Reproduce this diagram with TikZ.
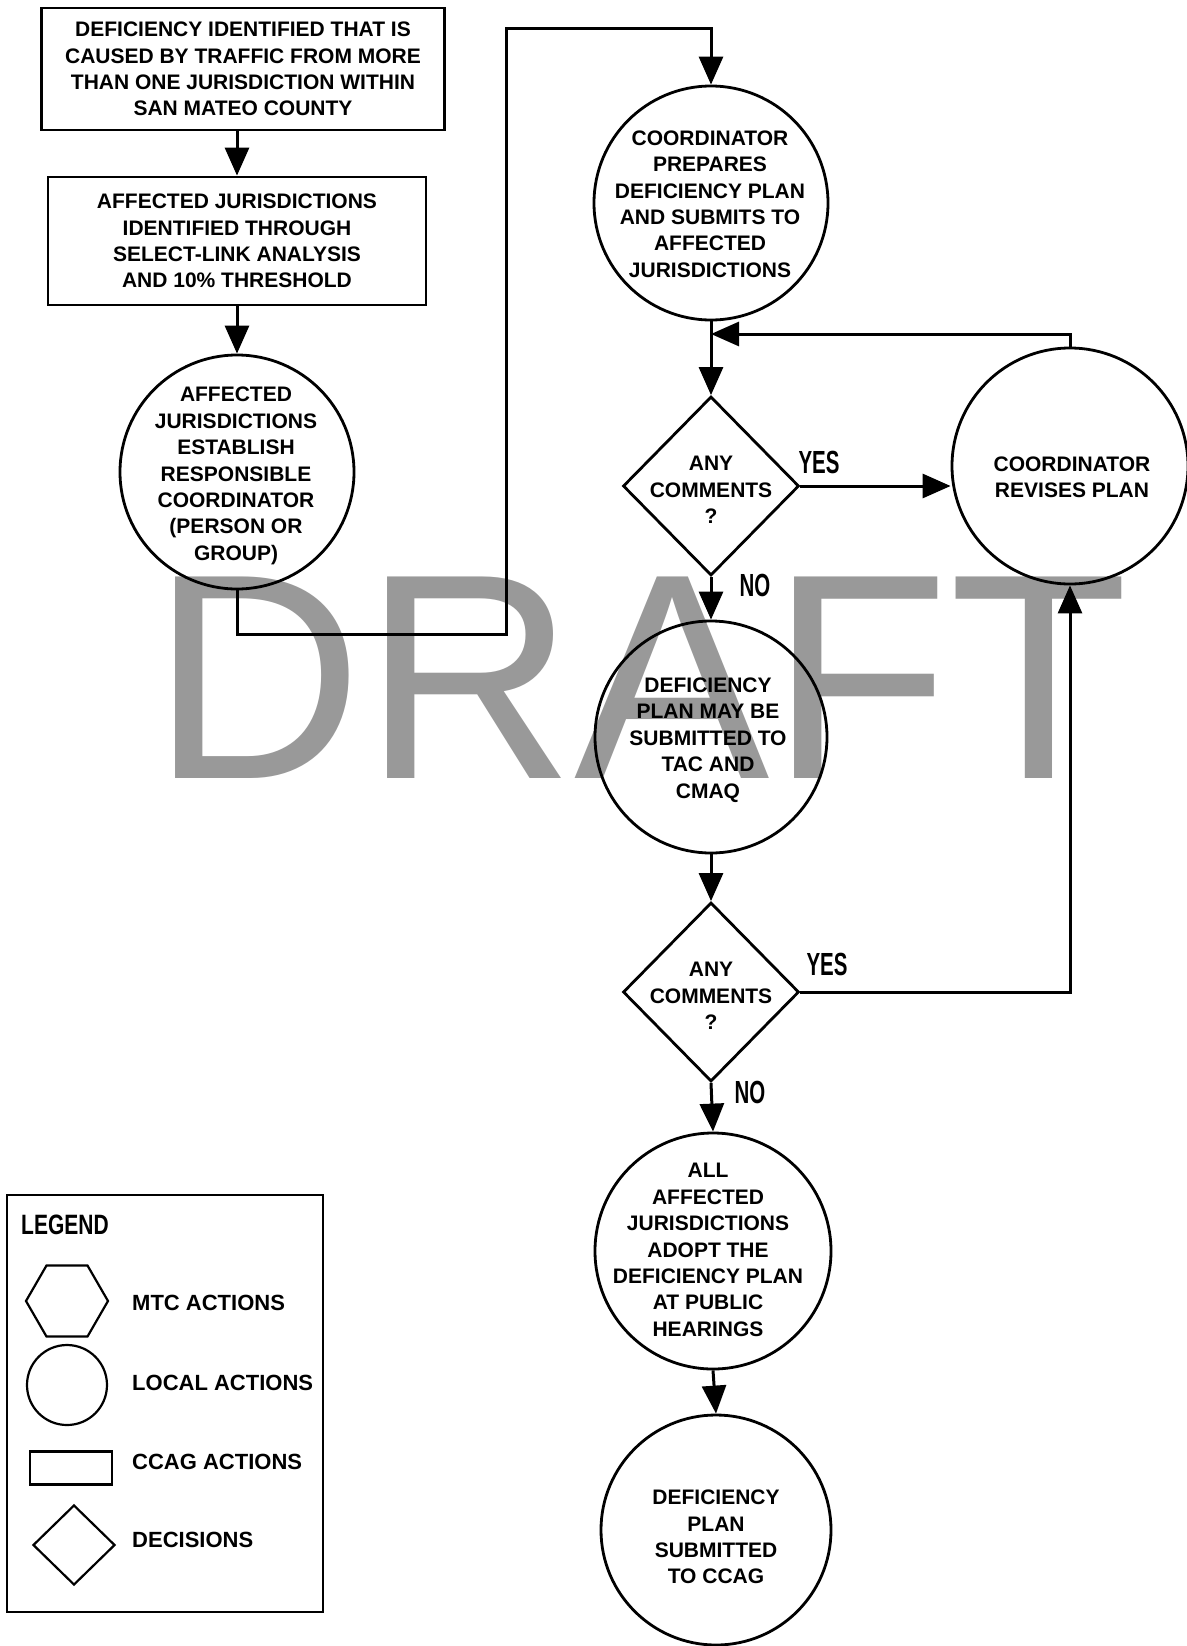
\documentclass[tikz,border=0pt]{standalone}
\usepackage{fontspec}
\setmainfont{Liberation Sans}
\newfontfamily\narrowsans[FakeStretch=0.64]{Liberation Sans}
\newfontfamily\legendsans[FakeStretch=0.75]{Liberation Sans}
\usepackage{tikz}
\usetikzlibrary{shapes.geometric, arrows.meta, positioning, calc}
\definecolor{draftgray}{gray}{0.6}
\newcommand{\flowfont}{\fontsize{21}{26.4}\selectfont\bfseries}

\tikzset{
  flow/.style={line width=3pt, -{Triangle[width=24pt,length=28pt]}},
  ccagact/.style={rectangle, draw, line width=2.8pt, inner sep=0pt, align=center, font=\flowfont},
  localact/.style={circle, draw, line width=2.8pt, inner sep=0pt, minimum size=234pt},
  decision/.style={diamond, draw, line width=2.8pt, inner sep=0pt, minimum width=176pt, minimum height=179pt},
  blocktext/.style={align=center, inner sep=0pt, font=\flowfont},
  answer/.style={inner sep=0pt, font=\narrowsans\bfseries\fontsize{32}{32}\selectfont},
  legshape/.style={draw, line width=2.2pt, inner sep=0pt},
  legtext/.style={anchor=west, inner sep=0pt, font=\fontsize{22}{26}\selectfont\bfseries}
}

\begin{document}
\begin{tikzpicture}[x=1pt, y=-1pt]
  \useasboundingbox (0,0) rectangle (1186,1646);

  % watermark behind everything
  \node[anchor=base, inner sep=0pt, text=draftgray,
        font=\fontsize{293}{293}\selectfont] (draftmark) at (640,778) {DRAFT};

  % left column
  \node[ccagact, minimum width=403pt, minimum height=122pt] (ccag1) at (243,69)
    {DEFICIENCY IDENTIFIED THAT IS\\CAUSED BY TRAFFIC FROM MORE\\THAN ONE JURISDICTION WITHIN\\SAN MATEO COUNTY};
  \node[ccagact, minimum width=378pt, minimum height=128pt] (ccag2) at (237,241)
    {AFFECTED JURISDICTIONS\\IDENTIFIED THROUGH\\SELECT-LINK ANALYSIS\\AND 10\% THRESHOLD};
  \node[localact] (establish) at (237,472) {};
  \node[blocktext] (establishtxt) at (236,476)
    {AFFECTED\\JURISDICTIONS\\ESTABLISH\\RESPONSIBLE\\COORDINATOR\\(PERSON OR\\GROUP)};

  % main column
  \node[localact] (prepares) at (711,203) {};
  \node[blocktext] (preparestxt) at (710,204)
    {COORDINATOR\\PREPARES\\DEFICIENCY PLAN\\AND SUBMITS TO\\AFFECTED\\JURISDICTIONS};
  \coordinate (rejoin) at (711,334);
  \node[decision] (any1) at (711,486) {};
  \node[blocktext] (any1txt) at (711,490) {ANY\\COMMENTS\\?};
  \node[localact, minimum size=236pt] (revises) at (1070,466) {};
  \node[blocktext] (revisestxt) at (1072,477) {COORDINATOR\\REVISES PLAN};
  \node[localact, minimum size=232pt] (maybe) at (711,737) {};
  \node[blocktext] (maybetxt) at (708,740)
    {DEFICIENCY\\PLAN MAY BE\\SUBMITTED TO\\TAC AND\\CMAQ};
  \node[decision] (any2) at (711,992) {};
  \node[blocktext] (any2txt) at (711,996) {ANY\\COMMENTS\\?};
  \node[localact, minimum size=236pt] (adopt) at (713,1251) {};
  \node[blocktext] (adopttxt) at (708,1250)
    {ALL\\AFFECTED\\JURISDICTIONS\\ADOPT THE\\DEFICIENCY PLAN\\AT PUBLIC\\HEARINGS};
  \node[localact, minimum size=230pt] (submit) at (716,1530) {};
  \node[blocktext] (submittxt) at (716,1537)
    {DEFICIENCY\\PLAN\\SUBMITTED\\TO CCAG};

  % answers
  \node[answer] (yes1) at (819,462) {YES};
  \node[answer] (no1) at (755,585) {NO};
  \node[answer] (yes2) at (827,964) {YES};
  \node[answer] (no2) at (750,1092) {NO};

  % connectors
  \coordinate (lowbend) at (506,634);
  \coordinate (highbend) at (506,29);
  \draw[flow] (ccag2.north |- ccag1.south) -- (ccag2.north);
  \draw[flow] (ccag2.south) -- (establish.north);
  \draw[flow] (establish.south) |- (lowbend) -- (highbend) -| (prepares.north);
  \draw[flow] (prepares.south) -- (any1.north);
  \draw[flow] (revises.north) |- (rejoin);
  \draw[flow] (any1.east) -- (any1.east -| revises.west);
  \draw[flow] (any1.south) -- (maybe.north);
  \draw[flow] (maybe.south) -- (any2.north);
  \draw[flow] (any2.east) -| (revises.south);
  \draw[flow] (any2.south) -- (adopt.north);
  \draw[flow] (adopt.south) -- (submit.north);

  % legend
  \node[legshape, minimum width=316pt, minimum height=417pt] (legendbox) at (165,1403.5) {};
  \node[anchor=west, inner sep=0pt,
        font=\legendsans\bfseries\fontsize{28}{28}\selectfont] (legendtitle) at (21,1225) {LEGEND};
  \node[legshape, regular polygon, regular polygon sides=6, minimum size=82pt] (leghex) at (67,1301) {};
  \node[legshape, circle, minimum size=80pt] (legcirc) at (67,1385) {};
  \node[legshape, rectangle, minimum width=82pt, minimum height=33pt] (legrect) at (71,1468) {};
  \node[legshape, diamond, minimum width=82pt, minimum height=80pt] (legdiam) at (74,1545) {};
  \foreach \i/\y/\txt in {1/1303/MTC ACTIONS, 2/1383/LOCAL ACTIONS, 3/1462/CCAG ACTIONS, 4/1540/DECISIONS} {
    \node[legtext] (legtxt\i) at (132,\y) {\txt};
  }
\end{tikzpicture}
\end{document}
